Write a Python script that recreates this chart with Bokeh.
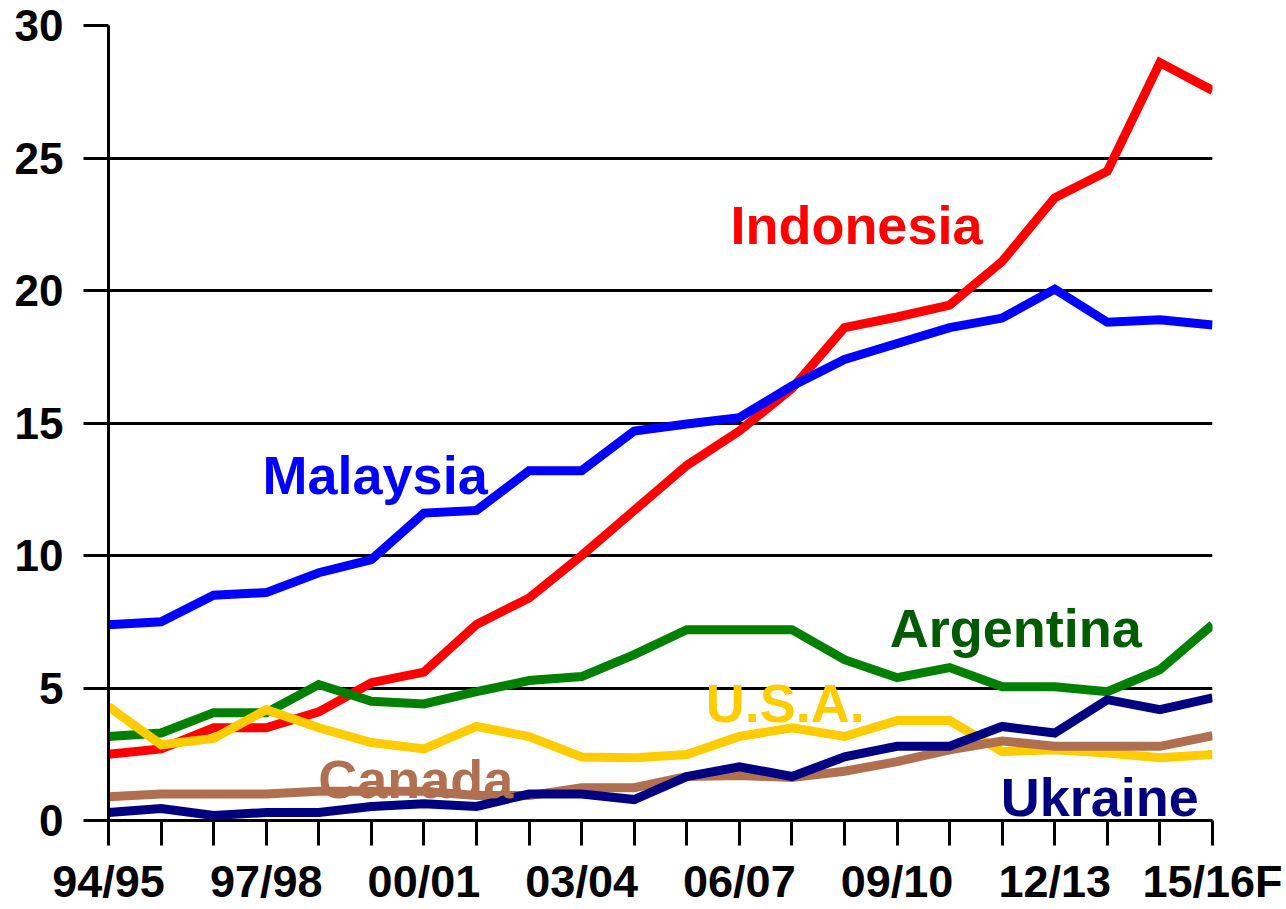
from bokeh.plotting import figure
from bokeh.models import Range1d, FixedTicker
from bokeh.core.properties import value
from bokeh.embed import file_html
from bokeh.resources import INLINE

seasons = ["94/95", "95/96", "96/97", "97/98", "98/99", "99/00", "00/01", "01/02",
           "02/03", "03/04", "04/05", "05/06", "06/07", "07/08", "08/09", "09/10",
           "10/11", "11/12", "12/13", "13/14", "14/15", "15/16F"]
tick_labels = ["94/95", "97/98", "00/01", "03/04", "06/07", "09/10", "12/13", "15/16F"]

indonesia = [2.5, 2.7, 3.5, 3.5, 4.1, 5.2, 5.6, 7.4, 8.4, 10.0, 11.7, 13.4, 14.7, 16.3,
             18.6, 19.0, 19.45, 21.1, 23.5, 24.5, 28.6, 27.55]
malaysia = [7.39, 7.5, 8.5, 8.6, 9.35, 9.84, 11.6, 11.7, 13.2, 13.2, 14.7, 14.96, 15.2,
            16.4, 17.4, 18.0, 18.6, 18.96, 20.05, 18.8, 18.9, 18.7]
argentina = [3.17, 3.3, 4.07, 4.07, 5.13, 4.5, 4.4, 4.86, 5.28, 5.43, 6.26, 7.2, 7.2, 7.2,
             6.07, 5.39, 5.77, 5.05, 5.05, 4.86, 5.69, 7.39]
usa = [4.3, 2.86, 3.1, 4.18, 3.5, 2.94, 2.7, 3.55, 3.17, 2.4, 2.37, 2.49, 3.17, 3.5, 3.17,
       3.77, 3.77, 2.6, 2.67, 2.55, 2.37, 2.49]
canada = [0.9, 1.0, 1.0, 1.0, 1.1, 1.1, 1.1, 0.94, 0.94, 1.24, 1.24, 1.66, 1.7, 1.62, 1.86,
          2.22, 2.67, 3.0, 2.8, 2.8, 2.8, 3.2]
ukraine = [0.3, 0.45, 0.19, 0.3, 0.3, 0.53, 0.63, 0.53, 1.0, 1.0, 0.79, 1.66, 2.03, 1.66,
           2.4, 2.8, 2.8, 3.55, 3.3, 4.56, 4.18, 4.63]

FONT = "Liberation Sans"
x = list(range(len(seasons)))

p = figure(width=1286, height=909, x_range=Range1d(0, 21), y_range=Range1d(0, 30),
           output_backend="svg", toolbar_location=None,
           min_border_left=108, min_border_right=74, min_border_top=25, min_border_bottom=88)
p.outline_line_color = None
p.background_fill_color = "white"
p.border_fill_color = "white"

p.xgrid.visible = False
p.ygrid.ticker = FixedTicker(ticks=[0, 5, 10, 15, 20, 25, 30])
p.ygrid.grid_line_color = "black"
p.ygrid.grid_line_width = 3
p.ygrid.grid_line_alpha = 1.0

# y axis
p.yaxis.ticker = FixedTicker(ticks=[0, 5, 10, 15, 20, 25, 30])
p.yaxis.axis_line_width = 3
p.yaxis.axis_line_color = "black"
p.yaxis.major_tick_out = 25
p.yaxis.major_tick_in = 0
p.yaxis.major_tick_line_width = 3
p.yaxis.minor_tick_line_color = None
p.yaxis.major_label_text_font = FONT
p.yaxis.major_label_text_font_style = "bold"
p.yaxis.major_label_text_font_size = "44px"
p.yaxis.major_label_text_color = "black"
p.yaxis.major_label_standoff = 20

# x axis: ticks at every season, labels every third season
p.xaxis.ticker = FixedTicker(ticks=x)
p.xaxis.major_label_overrides = {i: (s if s in tick_labels else "") for i, s in enumerate(seasons)}
p.xaxis.axis_line_width = 3
p.xaxis.axis_line_color = "black"
p.xaxis.major_tick_out = 25
p.xaxis.major_tick_in = 0
p.xaxis.major_tick_line_width = 3
p.xaxis.minor_tick_line_color = None
p.xaxis.major_label_text_font = FONT
p.xaxis.major_label_text_font_style = "bold"
p.xaxis.major_label_text_font_size = "45px"
p.xaxis.major_label_text_color = "black"
p.xaxis.major_label_standoff = 10

series = [
    (indonesia, "#FF0000"),
    (argentina, "#008000"),
    (usa, "#FFCC00"),
    (canada, "#B07050"),
    (ukraine, "#000080"),
    (malaysia, "#0000FF"),
]
for ys, c in series:
    p.line(x, ys, line_color=c, line_width=9, line_join="miter")

label_names = ["Indonesia", "Malaysia", "Argentina", "U.S.A.", "Canada", "Ukraine"]
label_x = [11.83, 2.93, 14.86, 11.36, 3.99, 16.97]
label_y = [22.46, 13.04, 7.27, 4.45, 1.55, 0.87]
label_colors = ["#FF0000", "#0000FF", "#005A00", "#FFCC00", "#B07050", "#000080"]
for n, lx, ly, lc in zip(label_names, label_x, label_y, label_colors):
    p.text(x=[lx], y=[ly], text=[n], text_color=lc, text_font=value(FONT),
           text_font_style="bold", text_font_size="54px", text_align="left",
           text_baseline="alphabetic")

open("out.html", "w").write(file_html(p, INLINE))
